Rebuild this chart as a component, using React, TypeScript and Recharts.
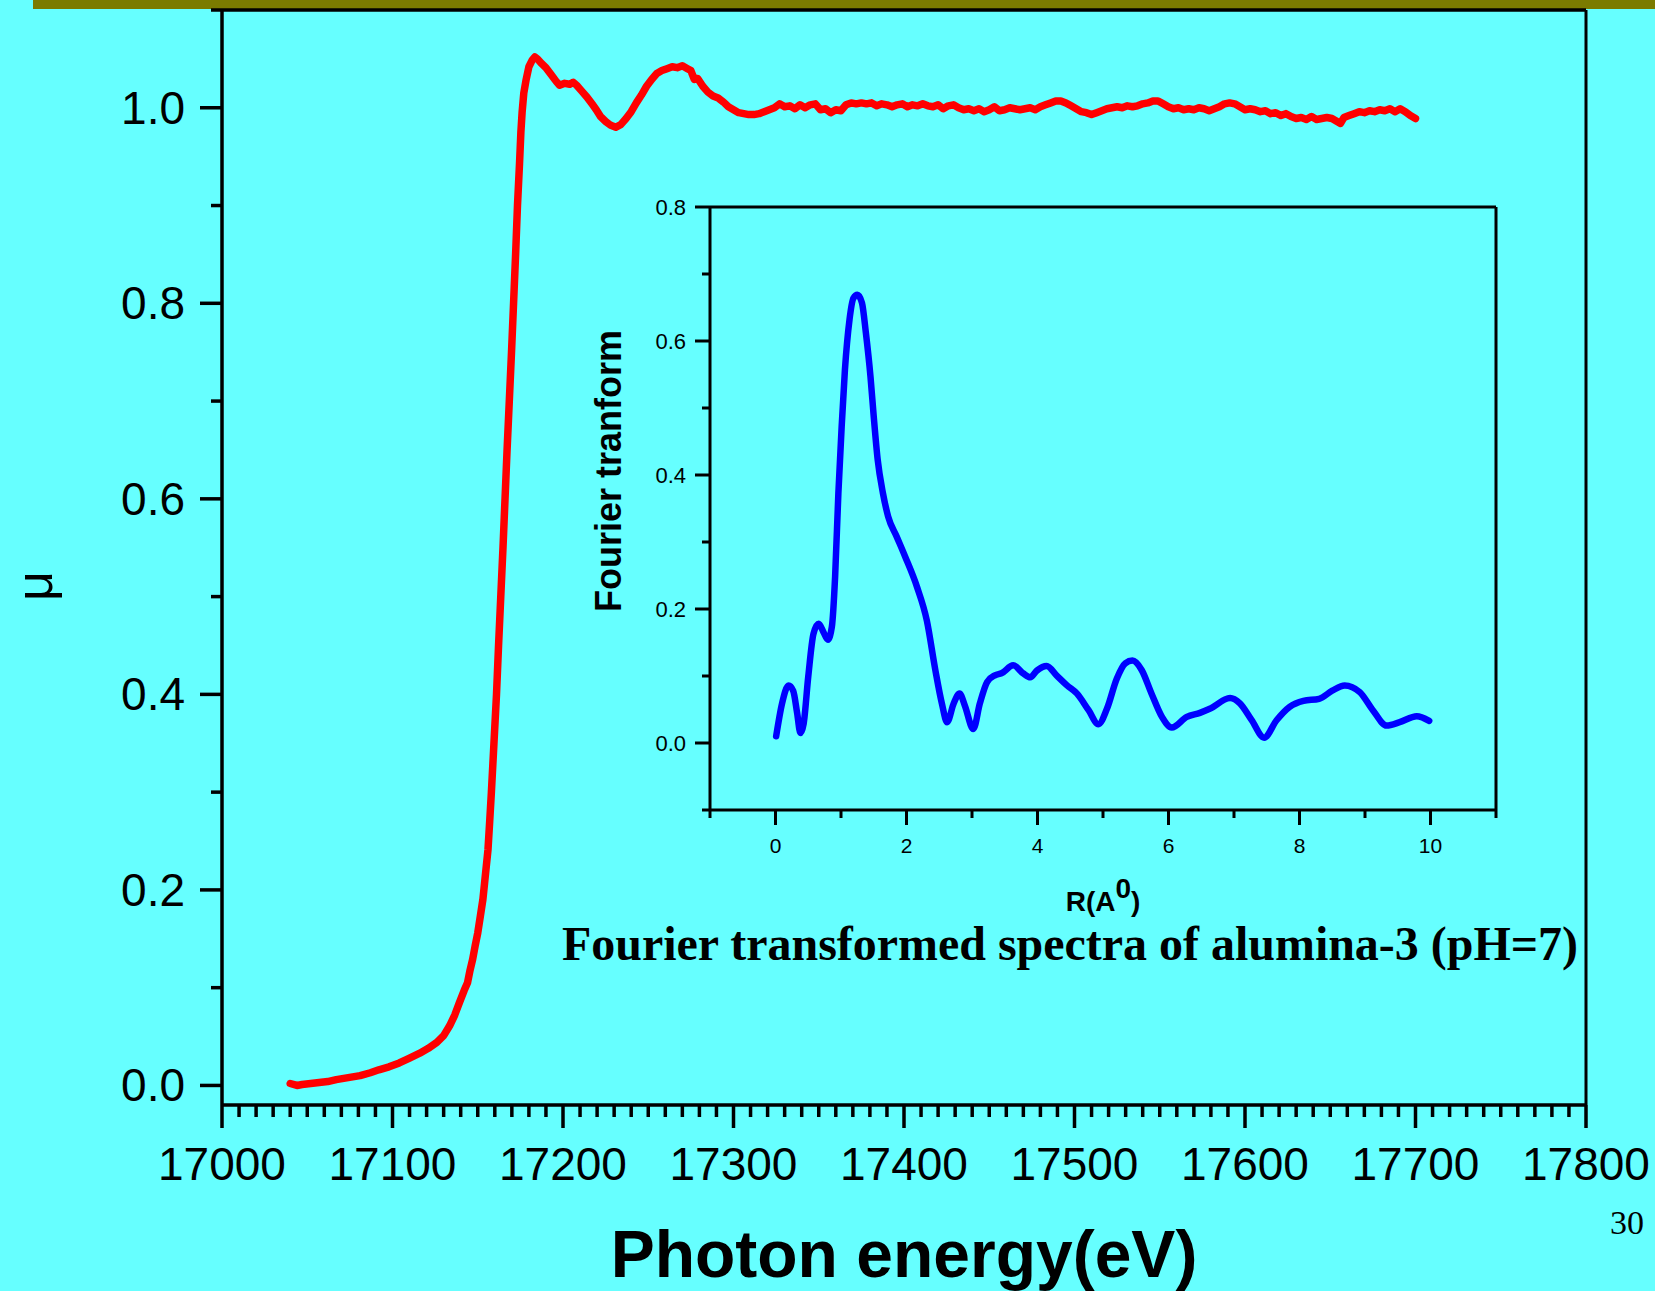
import React from 'react';
import { LineChart, Line, XAxis, YAxis, ReferenceLine } from 'recharts';

// main XANES spectrum: photon energy (eV) vs normalised absorption mu
const energy = [
  17040, 17044, 17047, 17052, 17057, 17062, 17067, 17074, 17081, 17087, 17092, 17098, 17104, 17110, 17116, 17121,
  17126, 17130, 17133.5, 17136.5, 17139.3, 17142, 17144, 17145.5, 17147, 17148.5, 17150, 17151.5, 17153, 17154, 17155,
  17156, 17157, 17158, 17159.5, 17161, 17162.2, 17163.5, 17164.8, 17166, 17167.2, 17168.5, 17169.8, 17171, 17172.2,
  17173.3, 17174.5, 17175.3, 17176, 17177, 17178.4, 17180, 17182, 17183.5, 17185, 17187, 17190, 17193, 17196, 17198,
  17201, 17204, 17206, 17208, 17211, 17214, 17217, 17219.5, 17222, 17225, 17228, 17231, 17234, 17237, 17240, 17243,
  17246, 17249, 17252, 17255, 17258, 17261, 17264, 17267, 17270, 17273, 17275, 17277, 17279, 17282, 17285, 17288,
  17291, 17294, 17297, 17300, 17303, 17306, 17309, 17312, 17315, 17318, 17321, 17324, 17327, 17330, 17333, 17336,
  17339, 17342, 17345, 17348, 17351, 17354, 17357, 17360, 17363, 17366, 17369, 17372, 17375, 17378, 17381, 17384,
  17387, 17390, 17393, 17396, 17399, 17402, 17405, 17408, 17411, 17414, 17417, 17420, 17423, 17426, 17429, 17432,
  17435, 17438, 17441, 17444, 17447, 17450, 17453, 17456, 17459, 17462, 17465, 17468, 17471, 17474, 17477, 17480,
  17483, 17486, 17489, 17492, 17495, 17498, 17501, 17504, 17507, 17510, 17513, 17516, 17519, 17522, 17525, 17528,
  17531, 17534, 17537, 17540, 17543, 17546, 17549, 17552, 17555, 17558, 17561, 17564, 17567, 17570, 17573, 17576,
  17579, 17582, 17585, 17588, 17591, 17594, 17597, 17600, 17603, 17606, 17609, 17612, 17615, 17618, 17621, 17624,
  17627, 17630, 17633, 17636, 17639, 17642, 17645, 17648, 17651, 17654, 17656, 17658, 17661, 17664, 17667, 17670,
  17673, 17676, 17679, 17682, 17685, 17688, 17691, 17694, 17697, 17700,
];
const mu = [
  0.002, 0.0, 0.001, 0.002, 0.003, 0.004, 0.006, 0.008, 0.01, 0.013, 0.016, 0.019, 0.023, 0.028, 0.033, 0.038,
  0.044, 0.051, 0.061, 0.072, 0.085, 0.097, 0.105, 0.118, 0.129, 0.143, 0.156, 0.173, 0.19, 0.207, 0.224,
  0.241, 0.27, 0.3, 0.35, 0.4, 0.45, 0.5, 0.55, 0.6, 0.65, 0.7, 0.75, 0.8, 0.85,
  0.9, 0.943, 0.975, 0.995, 1.015, 1.029, 1.042, 1.049, 1.052, 1.05, 1.046, 1.041, 1.034, 1.027, 1.023,
  1.025, 1.024, 1.026, 1.023, 1.017, 1.011, 1.004, 0.998, 0.991, 0.986, 0.982, 0.98, 0.983, 0.989, 0.996, 1.005,
  1.013, 1.022, 1.029, 1.035, 1.038, 1.04, 1.042, 1.041, 1.043, 1.04, 1.038, 1.029, 1.03, 1.022, 1.016, 1.012,
  1.01, 1.006, 1.001, 0.998, 0.995, 0.994, 0.993, 0.993, 0.994, 0.996, 0.998, 1.0, 1.004, 1.001, 1.002, 0.999,
  1.003, 1.0, 1.003, 1.004, 0.998, 0.999, 0.995, 0.998, 0.997, 1.003, 1.005, 1.004, 1.005, 1.004, 1.005, 1.002,
  1.004, 1.003, 1.001, 1.003, 1.004, 1.001, 1.003, 1.002, 1.004, 1.002, 1.001, 1.003, 0.999, 1.002, 1.003, 1.0,
  0.998, 0.999, 0.997, 0.999, 0.996, 0.998, 1.001, 0.997, 0.998, 1.0, 0.999, 0.998, 0.999, 1.0, 0.998, 1.001,
  1.003, 1.005, 1.007, 1.007, 1.005, 1.002, 0.999, 0.996, 0.995, 0.993, 0.995, 0.997, 0.999, 1.0, 1.001, 1.0,
  1.002, 1.001, 1.002, 1.004, 1.005, 1.007, 1.007, 1.004, 1.001, 0.999, 1.0, 0.998, 0.999, 0.998, 1.0, 0.999,
  0.997, 0.999, 1.001, 1.004, 1.005, 1.004, 1.001, 0.998, 0.999, 0.998, 0.996, 0.997, 0.994, 0.995, 0.992, 0.994,
  0.991, 0.989, 0.99, 0.988, 0.991, 0.988, 0.989, 0.99, 0.989, 0.986, 0.984, 0.99, 0.992, 0.994, 0.996, 0.995,
  0.997, 0.996, 0.998, 0.997, 0.999, 0.996, 0.999, 0.996, 0.992, 0.989,
];

// inset: Fourier transform magnitude vs R
const radius = [
  0.01, 0.1, 0.2, 0.27, 0.33, 0.38, 0.43, 0.5, 0.58, 0.66, 0.73, 0.8, 0.86, 0.91, 0.96, 1.01, 1.06, 1.13, 1.19,
  1.25, 1.32, 1.38, 1.45, 1.5, 1.56, 1.64, 1.72, 1.85, 1.98, 2.16, 2.31, 2.44, 2.54, 2.62, 2.72, 2.81, 2.89, 3.02,
  3.12, 3.23, 3.35, 3.45, 3.63, 3.78, 3.89, 3.99, 4.14, 4.29, 4.45, 4.6, 4.78, 4.93, 5.06, 5.21, 5.34, 5.45, 5.59,
  5.74, 5.9, 6.05, 6.28, 6.48, 6.63, 6.94, 7.09, 7.27, 7.46, 7.65, 7.85, 8.06, 8.3, 8.5, 8.69, 8.92, 9.12, 9.33,
  9.53, 9.79, 9.98,
];
const fourier = [
  0.01, 0.059, 0.086, 0.078, 0.045, 0.015, 0.029, 0.099, 0.163, 0.178, 0.166, 0.154, 0.173, 0.248, 0.373, 0.472,
  0.557, 0.632, 0.664, 0.669, 0.657, 0.612, 0.547, 0.487, 0.423, 0.373, 0.338, 0.308, 0.278, 0.233, 0.183, 0.109,
  0.059, 0.031, 0.059, 0.074, 0.056, 0.021, 0.059, 0.091, 0.101, 0.104, 0.116, 0.104, 0.098, 0.108, 0.115, 0.101,
  0.086, 0.074, 0.049, 0.028, 0.051, 0.096, 0.119, 0.123, 0.109, 0.074, 0.039, 0.023, 0.039, 0.045, 0.051, 0.067,
  0.059, 0.034, 0.008, 0.034, 0.054, 0.063, 0.066, 0.078, 0.086, 0.076, 0.049, 0.026, 0.031, 0.04, 0.033,
];

const mainXTicks = Array.from({ length: 81 }, (_, i) => 17000 + i * 10);
const mainYTicks = [0, 0.1, 0.2, 0.3, 0.4, 0.5, 0.6, 0.7, 0.8, 0.9, 1.0, 1.1];
const insetXTicks = [-1, 0, 1, 2, 3, 4, 5, 6, 7, 8, 9, 10, 11];
const insetYTicks = [-0.1, 0, 0.1, 0.2, 0.3, 0.4, 0.5, 0.6, 0.7, 0.8];

const mainData = energy.map((e, i) => ({ e, mu: mu[i] }));
const insetData = radius.map((r, i) => ({ r, ft: fourier[i] }));

const SANS = '"Liberation Sans", Arial, Helvetica, sans-serif';
const SERIF = '"Liberation Serif", "Times New Roman", serif';

// tick renderers draw their own tick marks so major/minor lengths differ
const MainXTick = (props: any) => {
  const { x, y, payload } = props;
  const major = payload.value % 100 === 0;
  return (
    <g>
      <line x1={x} y1={y} x2={x} y2={y + (major ? 23 : 12)} stroke="#000" strokeWidth={3.5} />
      {major && (
        <text x={x} y={y + 75} textAnchor="middle" fontSize={46} fontFamily={SANS} fill="#000">
          {payload.value}
        </text>
      )}
    </g>
  );
};

const MainYTick = (props: any) => {
  const { x, y, payload } = props;
  const major = Math.round(payload.value * 10) % 2 === 0;
  return (
    <g>
      <line x1={x - (major ? 22 : 11)} y1={y} x2={x} y2={y} stroke="#000" strokeWidth={3.5} />
      {major && (
        <text x={x - 37} y={y + 16} textAnchor="end" fontSize={46} fontFamily={SANS} fill="#000">
          {payload.value.toFixed(1)}
        </text>
      )}
    </g>
  );
};

const InsetXTick = (props: any) => {
  const { x, y, payload } = props;
  const major = Math.abs(payload.value) % 2 === 0;
  return (
    <g>
      <line x1={x} y1={y} x2={x} y2={y + (major ? 15 : 8)} stroke="#000" strokeWidth={3} />
      {major && (
        <text x={x} y={y + 43} textAnchor="middle" fontSize={21} fontFamily={SANS} fill="#000">
          {payload.value}
        </text>
      )}
    </g>
  );
};

const InsetYTick = (props: any) => {
  const { x, y, payload } = props;
  const major = Math.round(payload.value * 10) % 2 === 0;
  return (
    <g>
      <line x1={x - (major ? 15 : 8)} y1={y} x2={x} y2={y} stroke="#000" strokeWidth={3} />
      {major && (
        <text x={x - 24} y={y + 8} textAnchor="end" fontSize={22} fontFamily={SANS} fill="#000">
          {payload.value.toFixed(1)}
        </text>
      )}
    </g>
  );
};

const App = () => {
  return (
    <div style={{ position: 'absolute', left: 0, top: 0, width: 1655, height: 1291, background: '#66FFFF', overflow: 'hidden' }}>
      <div style={{ position: 'absolute', left: 33, top: 0, width: 1622, height: 9, background: '#7B7B00' }} />

      <div style={{ position: 'absolute', left: 0, top: 0 }}>
        <LineChart width={1655} height={1291} data={mainData} margin={{ top: 10, right: 69, bottom: 86, left: 72 }}>
          <XAxis
            type="number"
            dataKey="e"
            domain={[17000, 17800]}
            ticks={mainXTicks}
            interval={0}
            tick={<MainXTick />}
            tickLine={false}
            tickSize={0}
            tickMargin={0}
            height={100}
            axisLine={{ stroke: '#000', strokeWidth: 3.5 }}
            allowDataOverflow
          />
          <YAxis
            type="number"
            domain={[-0.02, 1.1]}
            ticks={mainYTicks}
            interval={0}
            tick={<MainYTick />}
            tickLine={false}
            tickSize={0}
            tickMargin={0}
            width={150}
            axisLine={{ stroke: '#000', strokeWidth: 3.5 }}
            allowDataOverflow
          />
          <ReferenceLine y={1.1} stroke="#000" strokeWidth={3.5} />
          <ReferenceLine x={17800} stroke="#000" strokeWidth={3} />
          <Line
            type="linear"
            dataKey="mu"
            stroke="#FF0000"
            strokeWidth={7.5}
            strokeLinejoin="round"
            strokeLinecap="round"
            dot={false}
            isAnimationActive={false}
          />
        </LineChart>
      </div>

      <div style={{ position: 'absolute', left: 560, top: 180 }}>
        <LineChart width={1000} height={700} data={insetData} margin={{ top: 27, right: 64, bottom: 20, left: 50 }}>
          <XAxis
            type="number"
            dataKey="r"
            domain={[-1, 11]}
            ticks={insetXTicks}
            interval={0}
            tick={<InsetXTick />}
            tickLine={false}
            tickSize={0}
            tickMargin={0}
            height={50}
            axisLine={{ stroke: '#000', strokeWidth: 3 }}
            allowDataOverflow
          />
          <YAxis
            type="number"
            domain={[-0.1, 0.8]}
            ticks={insetYTicks}
            interval={0}
            tick={<InsetYTick />}
            tickLine={false}
            tickSize={0}
            tickMargin={0}
            width={100}
            axisLine={{ stroke: '#000', strokeWidth: 3 }}
            allowDataOverflow
          />
          <ReferenceLine y={0.8} stroke="#000" strokeWidth={3} />
          <ReferenceLine x={11} stroke="#000" strokeWidth={3} />
          <Line
            type="monotone"
            dataKey="ft"
            stroke="#0000FF"
            strokeWidth={6.5}
            strokeLinejoin="round"
            strokeLinecap="round"
            dot={false}
            isAnimationActive={false}
          />
        </LineChart>
      </div>

      <svg width={1655} height={1291} style={{ position: 'absolute', left: 0, top: 0, pointerEvents: 'none' }}>
        <text x={904} y={1277} textAnchor="middle" fontSize={66} fontWeight="bold" fontFamily={SANS} fill="#000">
          Photon energy(eV)
        </text>
        <text transform="translate(52,586) rotate(-90)" textAnchor="middle" fontSize={52} fontFamily={SANS} fill="#000">
          μ
        </text>
        <text
          transform="translate(621,471) rotate(-90)"
          textAnchor="middle"
          fontSize={36}
          fontWeight="bold"
          fontFamily={SANS}
          fill="#000"
        >
          Fourier tranform
        </text>
        <text x={1103} y={911} textAnchor="middle" fontSize={28} fontWeight="bold" fontFamily={SANS} fill="#000">
          R(A<tspan dy={-13}>0</tspan>
          <tspan dy={13}>)</tspan>
        </text>
        <text
          x={562}
          y={960}
          fontSize={48}
          fontWeight="bold"
          fontFamily={SERIF}
          fill="#000"
          textLength={1016}
          lengthAdjust="spacingAndGlyphs"
        >
          Fourier transformed spectra of alumina-3 (pH=7)
        </text>
        <text x={1610} y={1234} fontSize={34} fontFamily={SERIF} fill="#000">
          30
        </text>
      </svg>
    </div>
  );
};

export default App;
